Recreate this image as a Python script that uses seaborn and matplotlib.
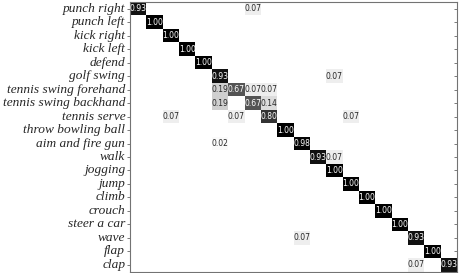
import numpy as np
import pandas as pd
import matplotlib
matplotlib.use("Agg")
import matplotlib.pyplot as plt
import matplotlib.lines as mlines
import seaborn as sns

classes = ["punch right", "punch left", "kick right", "kick left", "defend",
           "golf swing", "tennis swing forehand", "tennis swing backhand",
           "tennis serve", "throw bowling ball", "aim and fire gun", "walk",
           "jogging", "jump", "climb", "crouch", "steer a car", "wave",
           "flap", "clap"]

# diagonal values (correct rate per class)
diag = [0.93, 1.00, 1.00, 1.00, 1.00, 0.93, 0.67, 0.67, 0.80, 1.00,
        0.98, 0.93, 1.00, 1.00, 1.00, 1.00, 1.00, 0.93, 1.00, 0.93]

# off-diagonal confusions: (row, col, value)
off_rows = [0, 5, 6, 6, 6, 7, 7, 8, 8, 8, 10, 11, 17, 19]
off_cols = [7, 12, 5, 7, 8, 5, 8, 2, 6, 13, 5, 12, 10, 17]
off_vals = [0.07, 0.07, 0.19, 0.07, 0.07, 0.19, 0.14, 0.07, 0.07, 0.07,
            0.02, 0.07, 0.07, 0.07]

n = len(classes)
cm = np.zeros((n, n))
cm[np.arange(n), np.arange(n)] = diag
cm[off_rows, off_cols] = off_vals
df = pd.DataFrame(cm, index=classes, columns=classes)

sns.set_style("white")
fig = plt.figure(figsize=(4.63, 2.73), dpi=100)
ax = fig.add_axes([0.281, 0.005, 0.706, 0.988])
sns.heatmap(df, ax=ax, cmap="gray_r", vmin=0, vmax=1, mask=(cm == 0),
            annot=True, fmt=".2f", cbar=False,
            xticklabels=False, yticklabels=True,
            annot_kws={"fontsize": 5.5, "family": "DejaVu Sans"})

ax.set_yticklabels(classes, rotation=0, fontsize=9.6,
                   family="Liberation Serif", style="italic")
ax.tick_params(axis="y", left=True, right=True, direction="out",
               length=2.5, width=0.6, color="0.4", pad=1)
for t in ax.yaxis.get_major_ticks():
    t.tick2line.set_marker(mlines.TICKLEFT)

for s in ax.spines.values():
    s.set_visible(True)
    s.set_color("0.45")
    s.set_linewidth(0.8)

fig.savefig("out.png", dpi=100)
